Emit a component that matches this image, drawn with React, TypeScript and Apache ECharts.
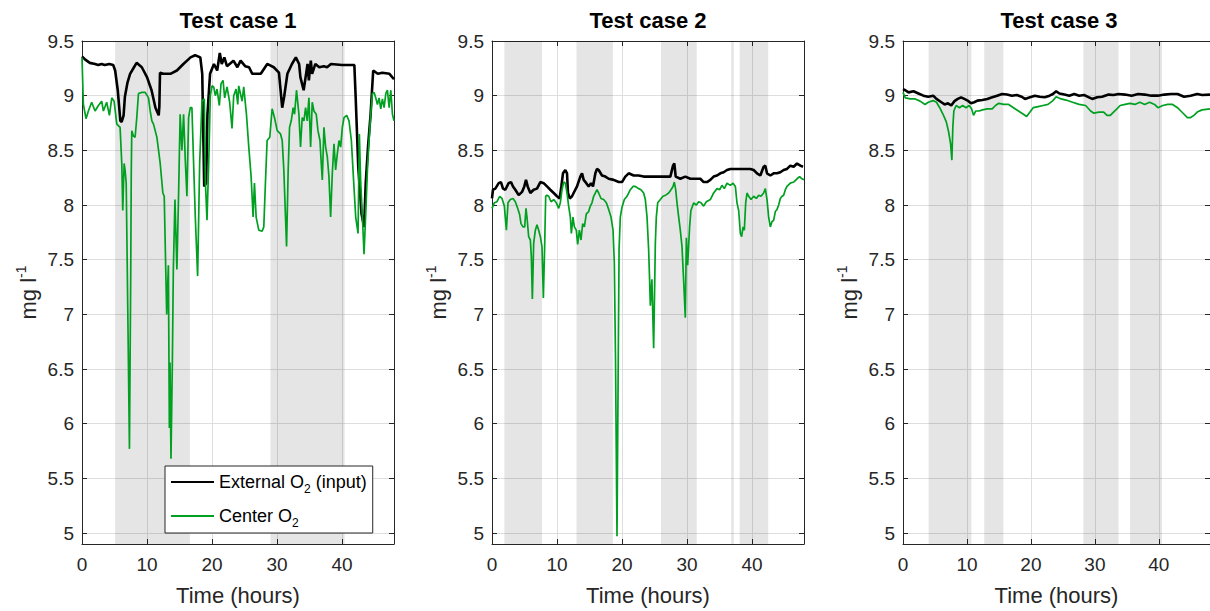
import React, { useEffect, useRef } from 'react';
import * as echarts from 'echarts';

const FONT = '"Liberation Sans", Arial, Helvetica, sans-serif';

const titles = ['Test case 1', 'Test case 2', 'Test case 3'];
const seriesNames = ['External O2 (input)', 'Center O2'];
const xTicks = [0, 10, 20, 30, 40];
const yTicks = [5, 5.5, 6, 6.5, 7, 7.5, 8, 8.5, 9, 9.5];

// ---- Test case 1 ----
const t1e = [0,0.5,1.2,2.0,2.5,3.0,3.5,4.2,4.8,5.1,5.5,5.9,6.1,6.4,6.6,7.0,7.4,8.0,8.4,8.8,9.2,10.0,10.7,11.3,11.8,11.9,12.0,12.5,13.6,14.6,15.6,16.7,17.4,18.2,18.5,18.8,19.1,19.3,19.7,20.3,20.8,21.2,21.5,21.9,22.3,23.3,23.9,24.4,25.1,25.7,26.2,27.5,28.5,29.5,30.3,30.8,31.1,31.6,32.3,32.9,33.4,33.6,34.1,34.4,34.7,34.9,35.2,35.4,35.9,36.5,37.2,37.7,38.3,40.0,41.9,42.1,42.5,43.0,43.4,43.65,44.0,44.4,44.8,45.5,46.2,47.3,48.0];
const v1e = [9.36,9.33,9.30,9.29,9.28,9.29,9.28,9.29,9.28,9.23,9.05,8.77,8.76,8.82,8.99,9.12,9.20,9.26,9.30,9.28,9.26,9.17,9.05,8.89,8.82,8.90,9.21,9.20,9.20,9.23,9.29,9.35,9.37,9.35,9.20,8.17,8.20,8.83,9.20,9.29,9.23,9.39,9.29,9.35,9.27,9.32,9.26,9.32,9.27,9.26,9.20,9.20,9.29,9.26,9.21,8.89,8.99,9.20,9.29,9.35,9.29,9.17,9.05,9.17,9.29,9.14,9.32,9.20,9.29,9.26,9.27,9.26,9.29,9.28,9.28,8.99,8.35,7.92,7.80,8.20,8.53,8.83,9.23,9.20,9.21,9.20,9.15];
const t1c = [0,0.21,0.62,0.98,1.49,2.01,2.52,3.03,3.29,3.80,4.22,4.58,4.94,5.35,5.86,6.12,6.27,6.48,6.63,6.8,6.97,7.3,7.5,7.58,7.66,7.92,8.17,8.43,8.69,9.2,9.72,10.23,10.49,10.75,11.0,11.52,12.03,12.44,12.65,12.87,13.03,13.29,13.44,13.54,13.69,13.9,14.05,14.3,14.6,14.86,15.1,15.37,15.63,15.89,16.14,16.4,16.66,16.91,17.17,17.43,17.79,18.1,18.46,18.82,18.97,19.23,19.49,19.74,20.0,20.26,20.51,20.77,21.13,21.39,21.7,21.95,22.31,22.72,23.08,23.34,23.7,23.96,24.11,24.63,24.88,25.3,25.66,26.02,26.32,26.53,26.79,27.2,27.71,27.97,28.23,28.48,28.89,29.25,29.61,30.03,30.54,30.8,31.05,31.47,31.72,31.93,32.19,32.49,32.7,33.0,33.37,33.62,33.88,34.14,34.4,34.65,34.91,35.17,35.42,35.68,36.04,36.3,36.61,36.81,36.97,37.22,37.48,37.74,37.99,38.25,38.51,38.77,39.02,39.28,39.54,39.79,40.05,40.31,40.72,41.08,41.44,41.75,42.11,42.47,42.67,42.88,43.14,43.39,43.65,43.91,44.16,44.42,44.68,44.94,45.19,45.45,45.71,45.96,46.22,46.48,46.74,46.99,47.25,47.51,47.76,48.0];
const v1c = [9.35,8.92,8.79,8.86,8.94,8.86,8.91,8.95,8.86,8.94,8.82,8.98,8.95,8.74,8.71,8.38,7.95,8.38,8.32,8.2,7.4,5.77,7.4,8.3,8.68,8.63,8.62,8.80,9.02,9.03,9.03,8.98,8.86,8.77,8.74,8.62,8.38,8.11,8.08,7.45,7.0,7.45,5.96,6.56,5.68,6.55,7.4,8.05,7.41,8.1,8.83,8.5,8.83,8.41,8.08,8.8,8.89,8.89,8.38,7.89,7.35,8.38,8.95,8.97,8.23,7.86,8.38,9.0,9.09,9.08,9.0,9.06,8.91,9.11,9.14,8.98,9.08,8.94,8.70,9.0,9.06,8.92,9.09,8.95,9.08,8.83,8.53,8.26,7.89,8.2,7.89,7.77,7.76,7.80,8.22,8.59,8.62,8.88,8.80,8.68,8.65,8.59,8.32,7.62,8.32,8.71,8.77,8.89,8.83,9.05,8.83,8.53,8.80,8.77,8.89,8.77,8.98,8.53,8.94,8.86,8.83,8.68,8.59,8.38,8.23,8.71,8.53,8.44,8.26,7.89,8.29,8.56,8.32,8.47,8.59,8.53,8.71,8.80,8.82,8.77,8.59,8.26,7.89,7.74,8.65,8.2,7.89,7.55,7.92,8.32,8.59,8.83,9.02,9.03,8.98,8.92,8.98,8.88,8.97,8.89,9.02,9.05,8.89,9.05,8.83,8.77];
const shade1 = [[5.1, 16.6], [29.0, 40.4]];

// ---- Test case 2 ----
const t2e = [0,0.15,0.51,1.03,1.38,1.69,2.05,2.56,2.92,3.23,3.59,4.10,4.62,4.97,5.23,5.49,5.90,6.41,6.92,7.44,7.95,8.46,8.97,9.49,10.0,10.41,10.67,10.92,11.28,11.54,11.69,11.95,12.31,12.56,13.08,13.59,13.85,14.10,14.51,14.87,15.23,15.54,15.90,16.15,16.41,16.92,17.44,17.95,18.72,19.49,20.0,20.51,21.03,21.79,22.56,23.33,24.10,24.87,25.64,26.67,27.44,27.85,28.05,28.26,28.97,29.74,30.51,31.28,32.05,32.56,33.08,33.59,34.10,34.62,35.13,35.64,36.15,36.67,37.69,38.72,39.74,40.26,40.77,41.28,41.79,42.05,42.31,42.82,43.33,43.85,44.36,44.87,45.38,45.90,46.41,46.92,47.44,47.85];
const v2e = [8.06,8.14,8.15,8.20,8.21,8.15,8.14,8.20,8.21,8.17,8.14,8.09,8.12,8.17,8.23,8.17,8.11,8.14,8.15,8.21,8.20,8.17,8.14,8.11,8.08,8.06,8.17,8.29,8.32,8.29,8.11,8.06,8.08,8.11,8.17,8.26,8.29,8.23,8.20,8.17,8.20,8.17,8.29,8.33,8.32,8.27,8.26,8.24,8.23,8.21,8.21,8.26,8.29,8.27,8.27,8.26,8.26,8.26,8.26,8.26,8.26,8.36,8.38,8.26,8.24,8.26,8.24,8.24,8.24,8.21,8.21,8.23,8.26,8.27,8.29,8.30,8.32,8.33,8.33,8.33,8.33,8.32,8.29,8.27,8.35,8.36,8.29,8.27,8.29,8.29,8.30,8.32,8.33,8.36,8.35,8.38,8.36,8.35];
const t2c = [0,0.36,0.77,1.18,1.54,1.90,2.21,2.46,2.82,3.23,3.59,3.95,4.26,4.46,4.77,5.03,5.23,5.38,5.64,5.90,6.05,6.21,6.41,6.67,6.92,7.18,7.44,7.69,7.90,8.10,8.26,8.46,8.72,9.08,9.49,9.90,10.26,10.51,10.77,11.03,11.28,11.54,11.79,12.05,12.21,12.46,12.67,12.97,13.18,13.44,13.69,13.95,14.21,14.51,14.87,15.13,15.38,15.64,15.90,16.15,16.41,16.77,17.18,17.59,17.95,18.31,18.62,18.82,19.0,19.23,19.4,19.55,19.74,20.0,20.36,20.77,21.28,21.69,22.05,22.56,22.92,23.33,23.59,23.85,24.10,24.26,24.36,24.6,24.87,25.13,25.28,25.49,25.9,26.3,26.72,27.18,27.54,27.85,28.05,28.26,28.46,28.72,28.97,29.23,29.49,29.74,29.9,30.1,30.4,30.6,31.03,31.44,31.79,32.15,32.56,32.97,33.59,34.1,34.62,35.03,35.38,35.74,36.15,36.67,37.08,37.44,37.69,37.95,38.21,38.41,38.62,38.82,39.03,39.23,39.49,39.85,40.26,40.67,41.03,41.38,41.79,42.05,42.31,42.56,42.82,43.08,43.33,43.59,43.85,44.1,44.36,44.62,44.87,45.13,45.38,45.9,46.41,46.92,47.33,47.69,48.0];
const v2c = [7.97,8.02,8.03,8.08,8.06,7.99,7.77,8.02,8.05,8.06,8.03,7.97,7.91,7.83,7.80,7.80,7.97,7.89,7.71,7.68,7.53,7.14,7.65,7.77,7.82,7.77,7.71,7.62,7.15,7.62,8.08,8.09,8.08,8.03,8.05,8.02,7.97,8.02,8.14,8.21,8.20,8.11,7.99,7.89,7.74,7.89,7.80,7.77,7.64,7.77,7.68,7.83,7.80,7.92,7.94,7.99,8.02,8.08,8.11,8.14,8.11,8.06,8.05,8.02,7.96,7.89,7.77,7.47,6.6,4.97,6.4,7.6,7.89,7.98,8.05,8.08,8.14,8.17,8.17,8.15,8.14,8.11,8.05,7.89,7.59,7.29,7.08,7.32,6.69,7.65,7.89,8.02,8.05,8.08,8.09,8.11,8.14,8.17,8.21,8.14,8.02,7.89,7.77,7.62,7.3,6.97,7.7,7.45,7.8,7.95,8.02,8.0,8.03,8.02,7.99,8.03,8.05,8.11,8.15,8.14,8.18,8.15,8.2,8.18,8.2,8.17,8.02,7.95,7.74,7.71,7.8,7.77,8.02,8.11,8.08,8.05,8.08,8.06,8.09,8.08,8.11,8.15,8.05,7.89,7.80,7.85,7.86,7.94,7.96,8.0,8.06,8.08,8.09,8.14,8.17,8.2,8.21,8.24,8.26,8.24,8.23];
const shade2 = [[1.9, 7.7], [13.0, 18.6], [26.0, 31.5], [36.8, 37.2], [38.1, 42.5]];

// ---- Test case 3 ----
const t3e = [0,0.36,0.87,1.64,2.41,3.18,3.95,4.72,5.23,6.0,6.51,7.03,7.54,8.05,8.56,9.08,9.59,10.10,10.62,11.13,11.64,12.41,13.18,13.95,14.72,15.49,16.26,17.03,17.79,18.56,19.08,19.85,20.62,21.38,22.15,22.92,23.44,23.95,24.46,25.23,26.0,26.77,27.54,28.31,29.08,29.59,30.36,31.13,32.15,32.92,33.69,34.72,35.74,36.77,37.79,38.82,39.85,40.87,41.90,42.92,43.95,44.97,46.0,46.77,48.0];
const v3e = [9.06,9.05,9.03,9.04,9.02,9.0,8.99,9.0,8.97,8.94,8.92,8.93,8.91,8.95,8.97,8.985,8.97,8.955,8.93,8.94,8.955,8.96,8.97,8.985,9.0,9.015,9.01,9.0,9.006,8.99,8.97,8.985,9.0,8.99,8.985,9.0,9.015,9.04,9.02,9.01,9.0,9.015,9.0,9.006,8.985,8.97,8.985,8.99,9.01,9.006,9.015,9.01,9.0,9.015,9.01,9.0,9.0,9.01,9.015,9.015,8.99,9.0,9.015,9.006,9.01];
const t3c = [0,0.36,1.13,1.90,2.67,3.44,3.95,4.72,5.23,5.74,6.26,6.77,7.13,7.44,7.64,7.79,7.95,8.31,8.82,9.33,9.85,10.36,10.72,11.03,11.38,11.90,12.41,13.18,13.95,14.46,14.97,15.74,16.51,17.28,18.05,18.82,19.33,19.85,20.36,21.13,21.90,22.67,23.44,23.95,24.72,25.49,26.51,27.54,28.56,29.33,29.85,30.62,31.38,31.90,32.41,32.92,33.44,33.95,34.72,35.49,36.26,37.03,37.79,38.56,39.33,39.85,40.62,41.38,42.15,42.92,43.44,43.95,44.46,44.97,45.49,46.0,46.77,48.0];
const v3c = [9.03,8.98,8.97,8.97,8.95,8.92,8.94,8.955,8.94,8.89,8.83,8.76,8.67,8.56,8.41,8.71,8.86,8.91,8.89,8.91,8.89,8.91,8.88,8.82,8.86,8.86,8.87,8.88,8.88,8.91,8.93,8.92,8.92,8.89,8.86,8.83,8.81,8.85,8.89,8.90,8.91,8.92,8.955,8.99,8.97,8.96,8.94,8.92,8.91,8.86,8.84,8.85,8.85,8.82,8.82,8.85,8.88,8.91,8.92,8.93,8.92,8.94,8.92,8.94,8.92,8.89,8.91,8.92,8.92,8.89,8.86,8.83,8.80,8.80,8.82,8.85,8.87,8.88];
const shade3 = [[4.0, 10.7], [12.7, 15.7], [28.2, 33.7], [35.5, 40.5]];

const zip = (t: number[], v: number[]) => t.slice(0, Math.min(t.length, v.length)).map((x, i) => [x, v[i]]);

const panels = [
  { ext: zip(t1e, v1e), ctr: zip(t1c, v1c), shade: shade1 },
  { ext: zip(t2e, v2e), ctr: zip(t2c, v2c), shade: shade2 },
  { ext: zip(t3e, v3e), ctr: zip(t3c, v3c), shade: shade3 },
];

const GRID_LEFT = [82, 492, 903];
const GRID_TOP = 41;
const GRID_W = 312;
const GRID_H = 504;
const AXIS_COLOR = '#262626';

function buildOption() {
  const grid = GRID_LEFT.map((l) => ({ left: l, top: GRID_TOP, width: GRID_W, height: GRID_H }));
  const axisLine = { show: true, onZero: false, lineStyle: { color: AXIS_COLOR, width: 1 } };
  const xBottom = GRID_LEFT.map((_, i) => ({
    type: 'value', gridIndex: i, position: 'bottom', min: 0, max: 48,
    name: 'Time (hours)', nameLocation: 'middle', nameGap: 40,
    nameTextStyle: { fontSize: 22, color: AXIS_COLOR, fontFamily: FONT },
    axisLine,
    axisTick: { show: true, inside: true, length: 5, customValues: xTicks, lineStyle: { color: AXIS_COLOR } },
    axisLabel: { show: true, customValues: xTicks, fontSize: 19, color: AXIS_COLOR, margin: 11, fontFamily: FONT },
    splitLine: { show: true, lineStyle: { color: '#dedede', width: 1 } },
  }));
  const xTop = GRID_LEFT.map((_, i) => ({
    type: 'value', gridIndex: i, position: 'top', min: 0, max: 48,
    axisLine,
    axisTick: { show: true, inside: true, length: 5, customValues: xTicks, lineStyle: { color: AXIS_COLOR } },
    axisLabel: { show: false },
    splitLine: { show: false },
  }));
  const yLeft = GRID_LEFT.map((_, i) => ({
    type: 'value', gridIndex: i, position: 'left', min: 4.9, max: 9.5,
    name: 'mg l{sup|-1}', nameLocation: 'middle', nameRotate: 90, nameGap: 34,
    nameTextStyle: {
      fontSize: 22, color: AXIS_COLOR, fontFamily: FONT, lineHeight: 30,
      rich: { sup: { fontSize: 14, lineHeight: 14, verticalAlign: 'top', color: AXIS_COLOR, fontFamily: FONT } },
    },
    axisLine,
    axisTick: { show: true, inside: true, length: 5, customValues: yTicks, lineStyle: { color: AXIS_COLOR } },
    axisLabel: { show: true, customValues: yTicks, fontSize: 19, color: AXIS_COLOR, margin: 8, fontFamily: FONT },
    splitLine: { show: true, lineStyle: { color: '#dedede', width: 1 } },
  }));
  const yRight = GRID_LEFT.map((_, i) => ({
    type: 'value', gridIndex: i, position: 'right', min: 4.9, max: 9.5,
    axisLine,
    axisTick: { show: true, inside: true, length: 5, customValues: yTicks, lineStyle: { color: AXIS_COLOR } },
    axisLabel: { show: false },
    splitLine: { show: false },
  }));

  const series: any[] = [];
  panels.forEach((p, i) => {
    series.push({
      type: 'line', name: 'shade' + i, xAxisIndex: i, yAxisIndex: i, data: [], silent: true,
      markArea: {
        silent: true,
        itemStyle: { color: 'rgba(0,0,0,0.1)' },
        data: p.shade.map(([a, b]) => [{ xAxis: a }, { xAxis: b }]),
      },
    });
    series.push({
      type: 'line', name: seriesNames[0], xAxisIndex: i, yAxisIndex: i, data: p.ext,
      symbol: 'none', showSymbol: false, color: '#000000',
      lineStyle: { color: '#000000', width: 2.6 }, z: 3,
    });
    series.push({
      type: 'line', name: seriesNames[1], xAxisIndex: i, yAxisIndex: i, data: p.ctr,
      symbol: 'none', showSymbol: false, color: '#00a021',
      lineStyle: { color: '#00a021', width: 1.7 }, z: 4,
    });
  });

  return {
    animation: false,
    backgroundColor: '#ffffff',
    textStyle: { fontFamily: FONT },
    title: titles.map((t, i) => ({
      text: t, left: GRID_LEFT[i] + GRID_W / 2, top: 9, textAlign: 'center', padding: 0,
      textStyle: { fontSize: 22, fontWeight: 'bold', color: '#000', fontFamily: FONT },
    })),
    legend: {
      show: true, data: seriesNames, orient: 'vertical', left: 165, top: 466,
      backgroundColor: '#ffffff', borderColor: AXIS_COLOR, borderWidth: 1, borderRadius: 0,
      padding: [3, 6, 4, 5], itemGap: 8, itemWidth: 43, itemHeight: 14,
      selectedMode: false,
      itemStyle: { opacity: 0 },
      textStyle: {
        fontSize: 18, color: '#000', fontFamily: FONT, lineHeight: 26,
        rich: { sub: { fontSize: 12, lineHeight: 12, verticalAlign: 'bottom', color: '#000', fontFamily: FONT } },
      },
      formatter: (n: string) => (n === seriesNames[0] ? 'External O{sub|2} (input)' : 'Center O{sub|2}'),
    },
    grid,
    xAxis: [...xBottom, ...xTop],
    yAxis: [...yLeft, ...yRight],
    series,
  };
}

export default function App() {
  const ref = useRef<HTMLDivElement>(null);
  useEffect(() => {
    if (!ref.current) return;
    const chart = echarts.init(ref.current, undefined, { renderer: 'svg' });
    chart.setOption(buildOption() as any);
    return () => chart.dispose();
  }, []);
  return <div ref={ref} style={{ position: 'absolute', left: 0, top: 0, width: 1210, height: 611 }} />;
}
